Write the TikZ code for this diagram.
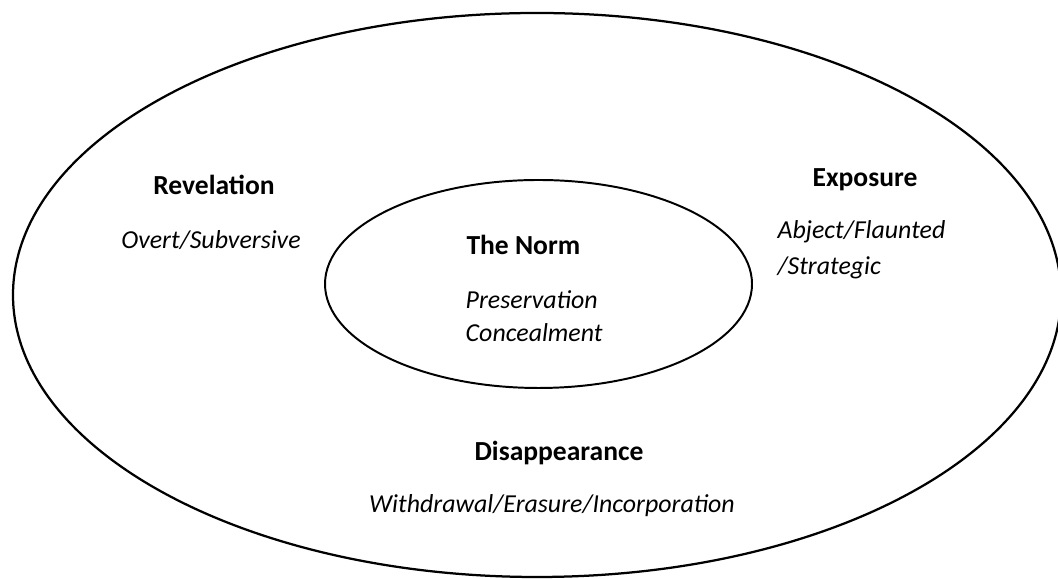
\documentclass[tikz,border=0pt]{standalone}
\usepackage{fontspec}
\setmainfont{Carlito}
\begin{document}
\begin{tikzpicture}[scale=1, line width=1.6pt]
  \tikzset{head/.style={font=\fontsize{19.6}{23}\selectfont\bfseries, inner sep=1pt},
           sub/.style={font=\fontsize{18.4}{22}\selectfont\itshape, inner sep=1pt}}
  \useasboundingbox (0,0) rectangle (26.45,14.475);
  \clip (0,0) rectangle (26.45,14.475);
  % ellipses
  \draw (13.425,7.1) ellipse[x radius=13.1, y radius=7.05];
  \draw[line width=1.4pt] (13.4625,7.375) ellipse[x radius=5.3375, y radius=2.6];
  % Revelation
  \node[head] (rev) at (5.35,9.85) {Revelation};
  \node[sub] (revsub) at (5.275,8.475) {Overt/Subversive};
  % Exposure
  \node[head] (expo) at (21.625,9.975) {Exposure};
  \node[sub, anchor=west] (exposub) at (19.375,8.675) {Abject/Flaunted};
  \node[sub, anchor=west] (exposubb) at (19.375,7.775) {/Strategic};
  % The Norm
  \node[head, anchor=west] (norm) at (11.6,8.35) {The Norm};
  \node[sub, anchor=west] (pres) at (11.58,6.975) {Preservation};
  \node[sub, anchor=west] (conc) at (11.58,6.15) {Concealment};
  % Disappearance
  \node[head] (disap) at (13.975,3.15) {Disappearance};
  \node[sub] (disapsub) at (13.8,1.825) {Withdrawal/Erasure/Incorporation};
\end{tikzpicture}
\end{document}
